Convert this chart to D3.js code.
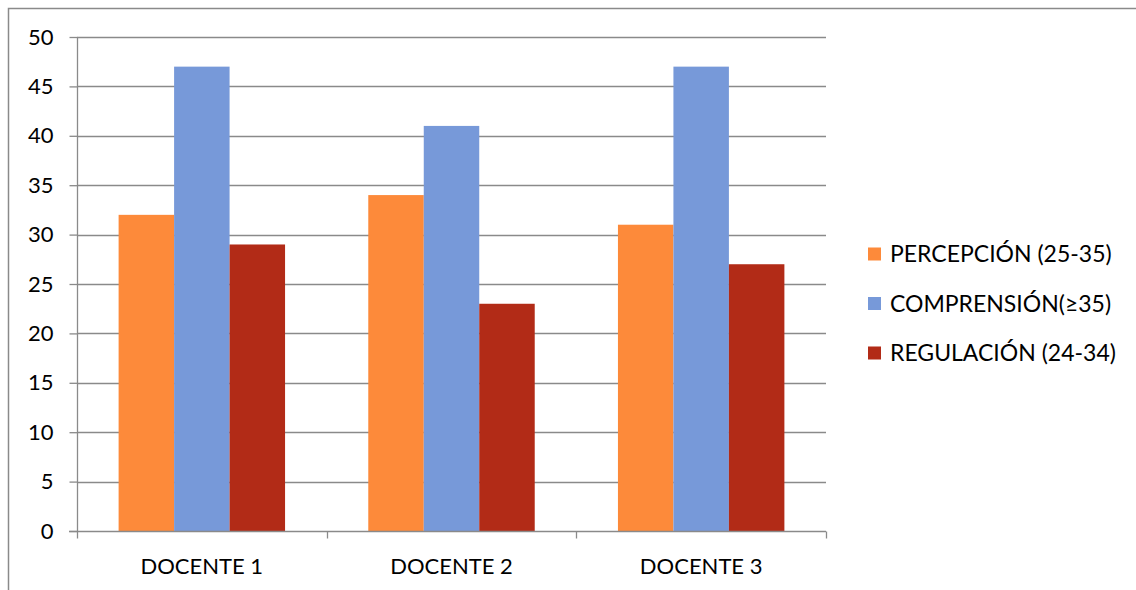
<!DOCTYPE html>
<html><head><meta charset="utf-8">
<script src="https://cdn.jsdelivr.net/npm/d3@7"></script>
<style>body{margin:0;background:#fff}svg{display:block}text{font-family:Lato,"Open Sans",sans-serif;fill:#000}</style>
</head><body>
<script>
const categories = ["DOCENTE 1", "DOCENTE 2", "DOCENTE 3"];
const seriesNames = ["PERCEPCIÓN (25-35)", "COMPRENSIÓN(≥35)", "REGULACIÓN (24-34)"];
const percepcion = [32, 34, 31];
const comprension = [47, 41, 47];
const regulacion = [29, 23, 27];
const yTicks = [0, 5, 10, 15, 20, 25, 30, 35, 40, 45, 50];
const colors = ["#FD8A3A", "#7799D9", "#B22B17"];
const series = [percepcion, comprension, regulacion];

const W = 1136, H = 590;
const svg = d3.select("body").append("svg").attr("width", W).attr("height", H);
const grid = "#8a8a8a";

svg.append("rect").attr("x", 8.5).attr("y", 8.5).attr("width", 1300).attr("height", 800)
  .attr("fill", "none").attr("stroke", grid).attr("stroke-width", 1.5);

const x0 = d3.scaleBand().domain(categories).range([77, 826]).paddingInner(1/3).paddingOuter(1/6);
const x1 = d3.scaleBand().domain(d3.range(3)).range([0, x0.bandwidth()]);
const y = d3.scaleLinear().domain([0, 50]).range([531, 37]);

// gridlines
svg.append("g").selectAll("line").data(yTicks.filter(d => d > 0)).join("line")
  .attr("x1", 77).attr("x2", 826).attr("y1", d => Math.round(y(d)) + 0.5).attr("y2", d => Math.round(y(d)) + 0.5)
  .attr("stroke", grid).attr("stroke-width", 1.3);

// bars
categories.forEach((c, i) => {
  svg.append("g").selectAll("rect").data(series.map((s, k) => ({k, v: s[i]}))).join("rect")
    .attr("x", d => x0(c) + x1(d.k)).attr("width", x1.bandwidth())
    .attr("y", d => y(d.v)).attr("height", d => y(0) - y(d.v))
    .attr("fill", d => colors[d.k]);
});

// y axis
const yAxis = d3.axisLeft(y).tickValues(yTicks).tickSize(8).tickPadding(16);
const gy = svg.append("g").attr("transform", "translate(77.5,0)").call(yAxis);
gy.select(".domain").attr("stroke", grid).attr("stroke-width", 1.3).attr("d", "M0," + y(50) + "V" + y(0));
gy.selectAll(".tick line").attr("stroke", grid).attr("stroke-width", 1.3);
gy.selectAll(".tick text").style("font-size", "22px").style("font-family", "Lato, sans-serif").attr("fill", "#000");

// x axis
const xStep = d3.scaleLinear().domain([0, 3]).range([77, 826]);
const gx = svg.append("g").attr("transform", "translate(0," + (Math.round(y(0)) + 0.5) + ")");
gx.append("line").attr("x1", 69).attr("x2", 826).attr("stroke", grid).attr("stroke-width", 1.3);
gx.selectAll("line.t").data(d3.range(4)).join("line").attr("class", "t")
  .attr("x1", d => Math.round(xStep(d)) + 0.5).attr("x2", d => Math.round(xStep(d)) + 0.5)
  .attr("y1", 0).attr("y2", 7).attr("stroke", grid).attr("stroke-width", 1.3);
gx.selectAll("text").data(categories).join("text")
  .attr("x", d => x0(d) + x0.bandwidth() / 2).attr("y", 42)
  .attr("text-anchor", "middle").style("font-size", "22px").text(d => d);

// legend
const lg = svg.append("g").attr("transform", "translate(868,254)");
const li = lg.selectAll("g").data(seriesNames).join("g").attr("transform", (d, i) => "translate(0," + i * 49.5 + ")");
li.append("rect").attr("x", 0).attr("y", -6.5).attr("width", 13).attr("height", 13).attr("fill", (d, i) => colors[i]);
li.append("text").attr("x", 22).attr("y", 0).attr("dy", "0.35em").style("font-size", "23px").text(d => d);
</script>
</body></html>
